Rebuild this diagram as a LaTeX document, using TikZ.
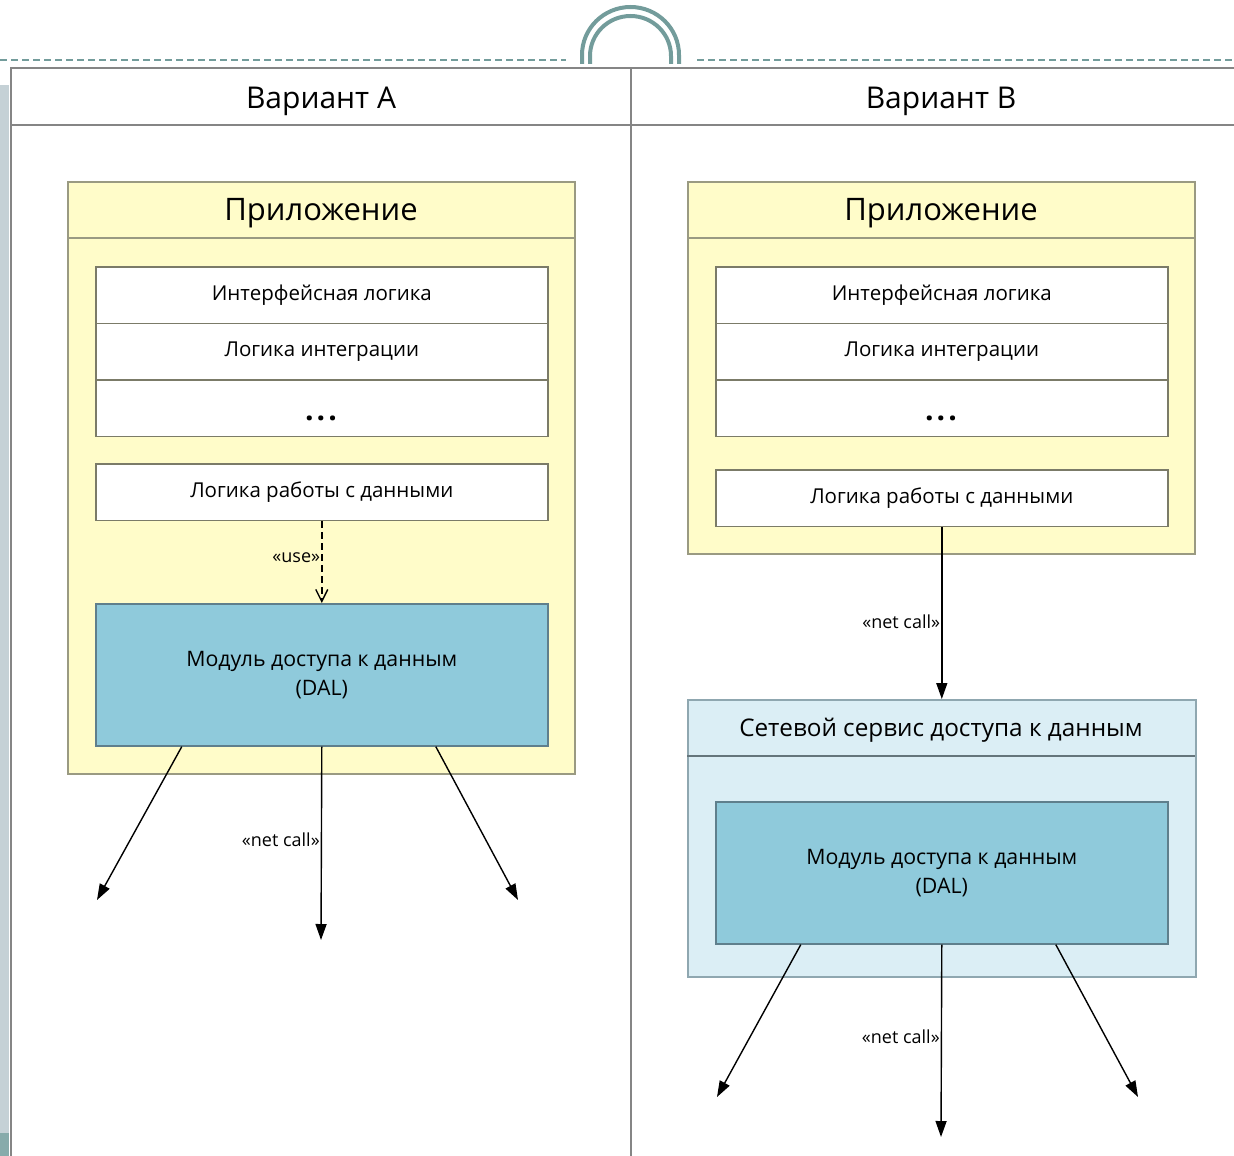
\documentclass[tikz,border=0pt]{standalone}
\usepackage{fontspec}
\setmainfont{Open Sans}
\usetikzlibrary{arrows.meta}

\definecolor{teal1}{HTML}{739C9B}
\definecolor{stripe}{HTML}{C5D1D6}
\definecolor{stripeb}{HTML}{87ABAB}
\definecolor{rule}{HTML}{858585}
\definecolor{appfill}{HTML}{FFFCC9}
\definecolor{appline}{HTML}{9A9A82}
\definecolor{dalfill}{HTML}{8FCADB}
\definecolor{dalline}{HTML}{5F7F8C}
\definecolor{srvfill}{HTML}{DBEEF5}
\definecolor{srvline}{HTML}{8FA7B0}

\begin{document}
\begin{tikzpicture}[x=1pt,y=-1pt,
	appbox/.style={draw=appline,line width=1.6pt,fill=appfill,anchor=north west,minimum width=507pt,inner sep=0pt},
	layer/.style={draw=appline!80!black,line width=1.6pt,fill=white,anchor=north west,minimum width=452pt,minimum height=56.5pt,inner sep=0pt,font=\fontsize{20.5}{22}\selectfont},
	dalbox/.style={draw=dalline,line width=1.6pt,fill=dalfill,anchor=north west,minimum width=452pt,minimum height=142pt,inner sep=0pt,align=center,font=\fontsize{21.3}{29}\selectfont},
	title/.style={font=\fontsize{31}{34}\selectfont},
	stereo/.style={font=\fontsize{18}{20}\selectfont,inner sep=1pt},
	call/.style={line width=1.4pt,-{Triangle[length=16pt,width=11pt]}}]
	\useasboundingbox (0,0) rectangle (1234,1156);
	% slide decoration
	\fill[stripe] (0,85) rectangle (9,1133);
	\fill[stripeb] (0,1133) rectangle (9,1156);
	\draw[teal1,line width=1.6pt,dash pattern=on 7pt off 4pt] (0,60)--(566,60) (697,60)--(1234,60);
	\draw[teal1,line width=4pt] (582,64)--(582,55) arc (180:360:48.5 and 48) --(679,64);
	\draw[teal1,line width=4pt] (590,64)--(590,56) arc (180:360:40.5 and 40) --(671,64);
	% table
	\draw[rule,line width=2pt] (1234,68)--(11,68)--(11,1156) (11,125)--(1234,125) (631,68)--(631,1156);
	\node[title,font=\fontsize{30}{32}\selectfont] (varA) at (321,101) {Вариант А};
	\node[title,font=\fontsize{30}{32}\selectfont] (varB) at (941,101) {Вариант В};

	% variant A
	\node[appbox,minimum height=592pt] (appA) at (67,181) {};
	\draw[appline,line width=1.6pt] (67,238)--(574,238);
	\node[title] (appAt) at (321,213) {Приложение};
	\node[layer] (uiA) at (95,266) {Интерфейсная логика};
	\node[layer] (intA) at (95,322.5) {Логика интеграции};
	\node[layer] (etcA) at (95,379) {};
	\node[font=\bfseries\fontsize{30}{30}\selectfont] at (321,418) {.\kern3pt.\kern3pt.};
	\node[layer] (dataA) at (95,463) {Логика работы с данными};
	\node[dalbox] (dalA) at (95,603) {Модуль доступа к данным\\(DAL)};
	\draw[line width=1.4pt,dash pattern=on 7pt off 4pt,-{Straight Barb[length=12pt,width=12pt]}] (dataA.south) -- node[stereo,left,pos=.45] {«use»} (dalA.north);
	\coordinate (endA1) at (97,900);
	\coordinate (endA2) at (321,940);
	\coordinate (endA3) at (518,900);
	\draw[call] ([xshift=-140pt]dalA.south) -- (endA1);
	\draw[call] (dalA.south) -- node[stereo,left,pos=.48] {«net call»} (endA2);
	\draw[call] ([xshift=114pt]dalA.south) -- (endA3);

	% variant B
	\node[appbox,minimum height=372pt] (appB) at (687,181) {};
	\draw[appline,line width=1.6pt] (687,238)--(1195,238);
	\node[title] (appBt) at (941,213) {Приложение};
	\node[layer] (uiB) at (715,266) {Интерфейсная логика};
	\node[layer] (intB) at (715,322.5) {Логика интеграции};
	\node[layer] (etcB) at (715,379) {};
	\node[font=\bfseries\fontsize{30}{30}\selectfont] at (941,418) {.\kern3pt.\kern3pt.};
	\node[layer] (dataB) at (715,469) {Логика работы с данными};
	\node[draw=srvline,line width=1.6pt,fill=srvfill,anchor=north west,minimum width=508pt,minimum height=277pt,inner sep=0pt] (srvB) at (687,699) {};
	\draw[srvline!70!black,line width=1.6pt] (687,756)--(1195,756);
	\node[font=\fontsize{24.3}{26}\selectfont] (srvBt) at (941,730) {Сетевой сервис доступа к данным};
	\draw[call] (dataB.south) -- node[stereo,left,pos=.55] {«net call»} (srvB.north);
	\node[dalbox] (dalB) at (715,801) {Модуль доступа к данным\\(DAL)};
	\coordinate (endB1) at (717,1097);
	\coordinate (endB2) at (941,1137);
	\coordinate (endB3) at (1138,1097);
	\draw[call] ([xshift=-141pt]dalB.south) -- (endB1);
	\draw[call] (dalB.south) -- node[stereo,left,pos=.48] {«net call»} (endB2);
	\draw[call] ([xshift=114pt]dalB.south) -- (endB3);
\end{tikzpicture}
\end{document}
